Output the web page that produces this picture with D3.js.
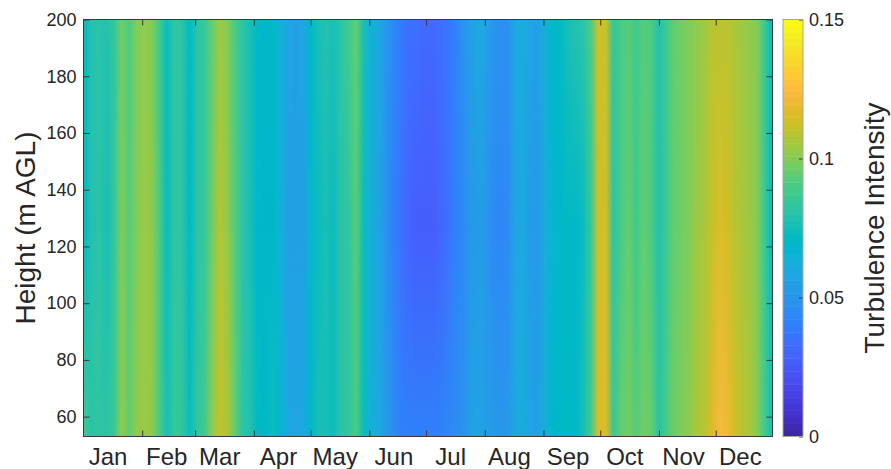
<!DOCTYPE html>
<html>
<head>
<meta charset="utf-8">
<script src="https://cdn.jsdelivr.net/npm/d3@7"></script>
<style>
body{margin:0;background:#fff;}
text{font-family:"Liberation Sans",Arial,Helvetica,sans-serif;fill:#262626;}
</style>
</head>
<body>
<script>
// day-of-year sample points (every 4 days)
var days = [1,5,9,13,17,21,25,29,33,37,41,45,49,53,57,61,65,69,73,77,81,85,89,93,97,101,105,109,113,117,
  121,125,129,133,137,141,145,149,153,157,161,165,169,173,177,181,185,189,193,197,201,205,209,213,217,221,225,229,233,237,
  241,245,249,253,257,261,265,269,273,277,281,285,289,293,297,301,305,309,313,317,321,325,329,333,337,341,345,349,353,357,
  361,365];

var heights = [53, 125, 200];

// turbulence intensity at 53 m
var ti53 = [0.088,0.082,0.083,0.080,0.086,0.101,0.094,0.101,0.104,0.102,
  0.091,0.076,0.086,0.084,0.074,0.083,0.089,0.101,0.111,0.106,
  0.094,0.082,0.079,0.072,0.072,0.073,0.067,0.059,0.058,0.060,
  0.068,0.075,0.077,0.074,0.080,0.084,0.090,0.074,0.064,0.060,
  0.052,0.046,0.042,0.040,0.040,0.040,0.040,0.042,0.043,0.045,
  0.048,0.054,0.058,0.056,0.052,0.050,0.052,0.060,0.062,0.058,
  0.056,0.064,0.068,0.070,0.072,0.070,0.076,0.088,0.116,0.116,
  0.086,0.094,0.097,0.092,0.097,0.094,0.080,0.090,0.098,0.100,
  0.102,0.106,0.109,0.117,0.122,0.121,0.114,0.108,0.107,0.100,
  0.088,0.075];

// at 125 m
var ti125 = [0.071,0.078,0.080,0.077,0.084,0.099,0.092,0.100,0.104,0.102,
  0.090,0.074,0.084,0.082,0.071,0.080,0.086,0.098,0.108,0.102,
  0.092,0.082,0.077,0.069,0.068,0.070,0.064,0.055,0.054,0.056,
  0.066,0.074,0.076,0.074,0.080,0.084,0.092,0.074,0.062,0.057,
  0.047,0.040,0.034,0.030,0.028,0.027,0.027,0.029,0.033,0.040,
  0.044,0.050,0.053,0.052,0.046,0.043,0.045,0.058,0.060,0.053,
  0.052,0.062,0.066,0.068,0.072,0.068,0.074,0.086,0.113,0.113,
  0.082,0.090,0.094,0.088,0.094,0.090,0.078,0.088,0.096,0.098,
  0.100,0.104,0.106,0.112,0.115,0.114,0.110,0.106,0.105,0.100,
  0.086,0.072];

// at 200 m
var ti200 = [0.072,0.078,0.080,0.078,0.084,0.097,0.090,0.099,0.102,0.100,
  0.088,0.073,0.084,0.082,0.072,0.080,0.086,0.096,0.104,0.100,
  0.090,0.082,0.077,0.070,0.069,0.071,0.065,0.057,0.056,0.058,
  0.068,0.076,0.078,0.076,0.082,0.088,0.096,0.076,0.064,0.059,
  0.050,0.044,0.038,0.035,0.033,0.032,0.032,0.034,0.037,0.042,
  0.048,0.056,0.060,0.058,0.050,0.047,0.049,0.060,0.063,0.058,
  0.056,0.064,0.068,0.071,0.076,0.078,0.082,0.090,0.113,0.111,
  0.084,0.090,0.092,0.088,0.093,0.090,0.078,0.088,0.095,0.097,
  0.099,0.102,0.104,0.108,0.110,0.110,0.106,0.104,0.103,0.099,
  0.085,0.072];

var months = ["Jan","Feb","Mar","Apr","May","Jun","Jul","Aug","Sep","Oct","Nov","Dec"];
var monthStart = [1,32,60,91,121,152,182,213,244,274,305,335];
var yTicks = [60,80,100,120,140,160,180,200];
var cTicks = [0,0.05,0.1,0.15];

// matlab parula(64)
var parula = [[0.2422,0.1504,0.6603],[0.2504,0.1650,0.7076],[0.2578,0.1818,0.7511],[0.2647,0.1978,0.7952],
[0.2706,0.2147,0.8364],[0.2751,0.2342,0.8710],[0.2783,0.2559,0.8991],[0.2803,0.2782,0.9221],
[0.2813,0.3006,0.9414],[0.2810,0.3228,0.9579],[0.2795,0.3447,0.9717],[0.2760,0.3667,0.9829],
[0.2699,0.3892,0.9906],[0.2602,0.4123,0.9952],[0.2440,0.4358,0.9988],[0.2206,0.4603,0.9973],
[0.1963,0.4847,0.9892],[0.1834,0.5074,0.9798],[0.1786,0.5289,0.9682],[0.1764,0.5499,0.9520],
[0.1687,0.5703,0.9359],[0.1540,0.5902,0.9218],[0.1460,0.6091,0.9079],[0.1380,0.6276,0.8973],
[0.1248,0.6459,0.8883],[0.1113,0.6635,0.8763],[0.0952,0.6798,0.8598],[0.0689,0.6948,0.8394],
[0.0297,0.7082,0.8163],[0.0036,0.7203,0.7917],[0.0067,0.7312,0.7660],[0.0433,0.7411,0.7394],
[0.0964,0.7500,0.7120],[0.1408,0.7584,0.6842],[0.1717,0.7670,0.6554],[0.1938,0.7758,0.6251],
[0.2161,0.7843,0.5923],[0.2470,0.7918,0.5567],[0.2906,0.7973,0.5188],[0.3406,0.8008,0.4789],
[0.3909,0.8029,0.4354],[0.4456,0.8024,0.3909],[0.5044,0.7993,0.3480],[0.5616,0.7942,0.3045],
[0.6174,0.7876,0.2612],[0.6720,0.7793,0.2227],[0.7242,0.7698,0.1910],[0.7738,0.7598,0.1646],
[0.8203,0.7498,0.1535],[0.8634,0.7406,0.1596],[0.9035,0.7330,0.1774],[0.9393,0.7288,0.2100],
[0.9728,0.7298,0.2394],[0.9956,0.7434,0.2371],[0.9970,0.7659,0.2199],[0.9952,0.7893,0.2028],
[0.9892,0.8136,0.1885],[0.9786,0.8386,0.1766],[0.9676,0.8639,0.1643],[0.9610,0.8890,0.1537],
[0.9597,0.9135,0.1423],[0.9628,0.9373,0.1265],[0.9691,0.9606,0.1064],[0.9769,0.9839,0.0805]];

var W = 891, H = 469;
var pL = 83.5, pR = 772.5, pT = 19.5, pB = 436.5;
var cbL = 783, cbR = 803;

var svg = d3.select("body").append("svg").attr("width", W).attr("height", H);
var defs = svg.append("defs");

var x = d3.scaleLinear().domain([1, 365]).range([pL, pR]);
var y = d3.scaleLinear().domain([53, 200]).range([pB, pT]);
var cy = d3.scaleLinear().domain([0, 0.15]).range([pB, pT]);
var cIndex = d3.scaleQuantize().domain([0, 0.15]).range(d3.range(64));

function rgb(row){ return d3.rgb(row[0]*255, row[1]*255, row[2]*255).toString(); }
function color(v){ return rgb(parula[cIndex(Math.max(0, Math.min(0.1499, v)))]); }

// one horizontal gradient per height level
var levels = [ti53, ti125, ti200];
levels.forEach(function(vals, j){
  var g = defs.append("linearGradient").attr("id", "lev" + j)
    .attr("gradientUnits", "userSpaceOnUse")
    .attr("x1", x(1)).attr("x2", x(365)).attr("y1", 0).attr("y2", 0);
  g.selectAll("stop").data(vals).enter().append("stop")
    .attr("offset", function(d, i){ return (x(days[i]) - x(1)) / (x(365) - x(1)); })
    .attr("stop-color", function(d){ return color(d); });
});

// vertical fades between levels (shading interp)
for (var j = 1; j < heights.length; j++) {
  var fg = defs.append("linearGradient").attr("id", "fade" + j)
    .attr("gradientUnits", "userSpaceOnUse")
    .attr("x1", 0).attr("x2", 0)
    .attr("y1", y(heights[j-1])).attr("y2", y(heights[j]));
  fg.append("stop").attr("offset", 0).attr("stop-color", "#000");
  fg.append("stop").attr("offset", 1).attr("stop-color", "#fff");
  defs.append("mask").attr("id", "mask" + j)
    .attr("maskUnits", "userSpaceOnUse")
    .attr("x", pL).attr("y", pT).attr("width", pR - pL).attr("height", pB - pT)
    .append("rect")
    .attr("x", pL).attr("y", pT).attr("width", pR - pL).attr("height", pB - pT)
    .attr("fill", "url(#fade" + j + ")");
}

var plot = svg.append("g");
levels.forEach(function(vals, j){
  var r = plot.append("rect")
    .attr("x", pL).attr("y", pT).attr("width", pR - pL).attr("height", pB - pT)
    .attr("fill", "url(#lev" + j + ")");
  if (j > 0) r.attr("mask", "url(#mask" + j + ")");
});

// axes, ticks pointing inward, box on
function clean(g){ g.select(".domain").remove(); g.selectAll(".tick line").attr("stroke", "#3a3a3a"); }

svg.append("g").attr("transform", "translate(0," + pB + ")")
  .call(d3.axisBottom(x).tickValues(monthStart.slice(1)).tickSize(-6).tickFormat(""))
  .call(clean);
svg.append("g").attr("transform", "translate(0," + pT + ")")
  .call(d3.axisTop(x).tickValues(monthStart.slice(1)).tickSize(-6).tickFormat(""))
  .call(clean);
svg.append("g").attr("transform", "translate(" + pL + ",0)")
  .call(d3.axisLeft(y).tickValues(yTicks).tickSize(-6).tickPadding(7))
  .call(clean)
  .selectAll("text").attr("font-size", 18).attr("font-family", null).attr("fill", "#262626");
svg.append("g").attr("transform", "translate(" + pR + ",0)")
  .call(d3.axisRight(y).tickValues(yTicks).tickSize(-6).tickFormat(""))
  .call(clean);

svg.append("rect")
  .attr("x", pL).attr("y", pT).attr("width", pR - pL).attr("height", pB - pT)
  .attr("fill", "none").attr("stroke", "#3a3a3a").attr("stroke-width", 1);

// month labels, mid month
svg.append("g").selectAll("text").data(months).enter().append("text")
  .attr("x", function(d, i){ return x(monthStart[i] + 13); })
  .attr("y", 465)
  .attr("text-anchor", "middle")
  .attr("font-size", 24)
  .text(function(d){ return d; });

svg.append("text")
  .attr("transform", "translate(35," + ((pT + pB) / 2) + ") rotate(-90)")
  .attr("text-anchor", "middle")
  .attr("font-size", 28)
  .text("Height (m AGL)");

// colorbar
var steps = d3.range(64);
svg.append("g").selectAll("rect").data(steps).enter().append("rect")
  .attr("x", cbL).attr("width", cbR - cbL)
  .attr("y", function(i){ return cy((i + 1) * 0.15 / 64); })
  .attr("height", function(i){ return cy(i * 0.15 / 64) - cy((i + 1) * 0.15 / 64) + 0.5; })
  .attr("fill", function(i){ return rgb(parula[i]); });

svg.append("g").attr("transform", "translate(" + cbR + ",0)")
  .call(d3.axisRight(cy).tickValues(cTicks).tickSize(-4).tickPadding(6)
    .tickFormat(function(d){ return d === 0 ? "0" : String(d); }))
  .call(clean)
  .selectAll("text").attr("font-size", 18).attr("font-family", null).attr("fill", "#262626");

svg.append("rect")
  .attr("x", cbL).attr("y", pT).attr("width", cbR - cbL).attr("height", pB - pT)
  .attr("fill", "none").attr("stroke", "#a6a6a6").attr("stroke-width", 1);

svg.append("text")
  .attr("transform", "translate(884," + ((pT + pB) / 2) + ") rotate(-90)")
  .attr("text-anchor", "middle")
  .attr("font-size", 28)
  .text("Turbulence Intensity");
</script>
</body>
</html>
